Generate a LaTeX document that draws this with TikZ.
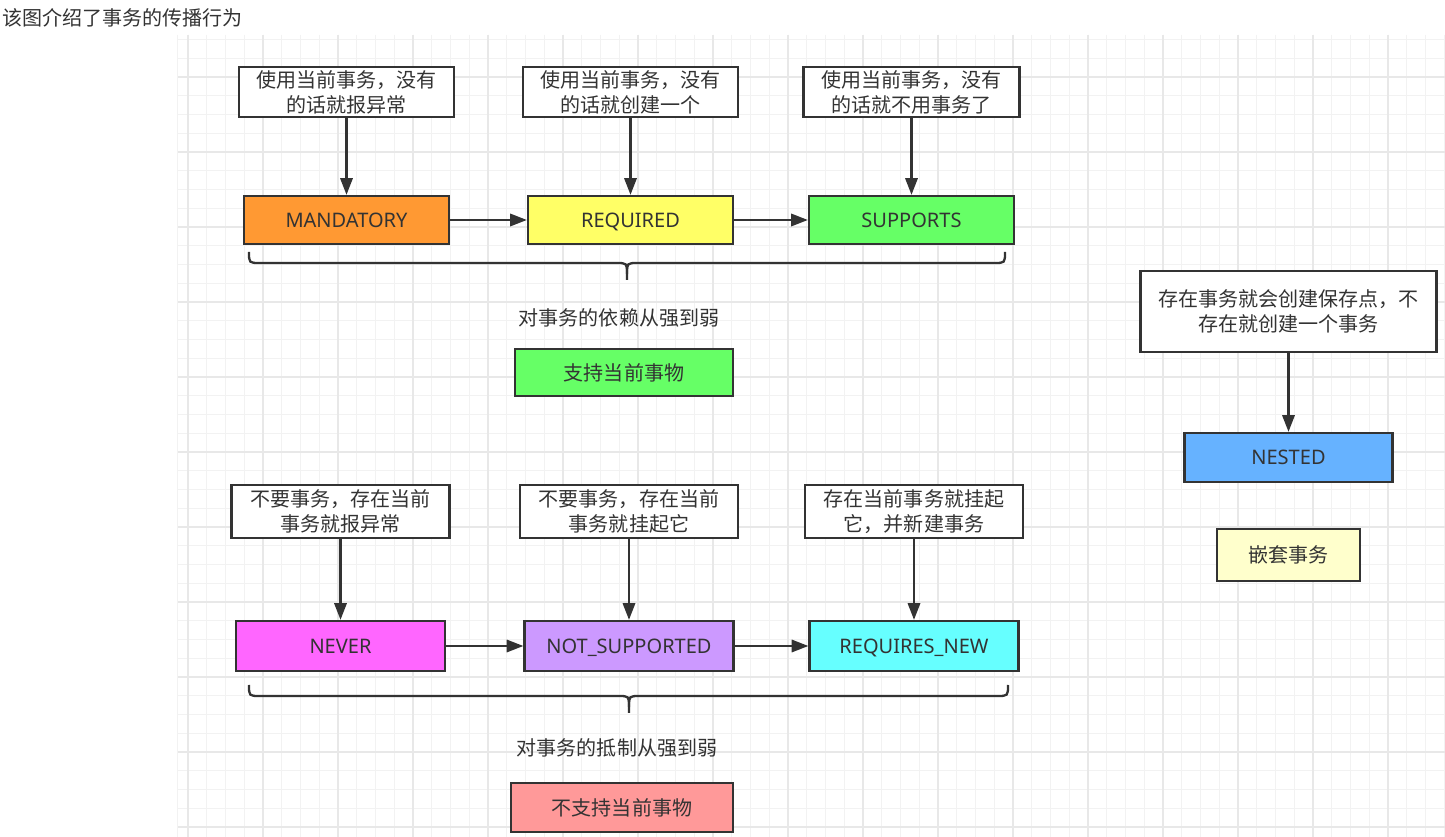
\documentclass[tikz,border=0pt]{standalone}
\usepackage{fontspec}
\setmainfont{Noto Sans}
\newfontfamily\cjk{Noto Sans CJK SC}
\usetikzlibrary{arrows.meta}
\definecolor{txt}{HTML}{333333}
\definecolor{bord}{HTML}{333333}
\definecolor{gminor}{HTML}{F2F2F2}
\definecolor{gmajor}{HTML}{E8E8E8}
\definecolor{cOrange}{HTML}{FF9933}
\definecolor{cYellow}{HTML}{FFFF66}
\definecolor{cGreen}{HTML}{66FF66}
\definecolor{cBlue}{HTML}{66B2FF}
\definecolor{cPale}{HTML}{FFFFCC}
\definecolor{cMagenta}{HTML}{FF66FF}
\definecolor{cPurple}{HTML}{CC99FF}
\definecolor{cCyan}{HTML}{66FFFF}
\definecolor{cPink}{HTML}{FF9999}
\tikzset{
  box/.style={draw=bord, line width=1.3pt, inner sep=0pt, text=txt, align=center,
    font=\fontsize{11.4}{14.2}\selectfont, text height=8.1pt, text depth=0pt},
  cbox/.style={draw=bord, line width=1.3pt, inner sep=0pt, text=txt, align=center,
    font=\cjk\fontsize{11.4}{14.2}\selectfont},
  note/.style={cbox, fill=white},
  lbl/.style={inner sep=0pt, text=txt, font=\cjk\fontsize{11.4}{14.2}\selectfont},
  arr/.style={draw=bord, line width=1.3pt, -{Triangle[length=9.5pt,width=7pt]}},
  bracepath/.style={draw=bord, line width=1.3pt},
}
\begin{document}
\begin{tikzpicture}[x=0.02cm,y=-0.02cm]
\useasboundingbox (0,0) rectangle (1445,837);
\fill[white] (0,0) rectangle (1445,837);
% grid
\begin{scope}
\clip (177,35) rectangle (1445,837);
\foreach \i in {0,...,67} \draw[gminor, line width=0.6pt] (188+18.75*\i,35) -- (188+18.75*\i,837);
\foreach \i in {2,...,44} \draw[gminor, line width=0.6pt] (177,2+18.75*\i) -- (1445,2+18.75*\i);
\foreach \i in {0,...,16} \draw[gmajor, line width=0.6pt] (188+75*\i,35) -- (188+75*\i,837);
\foreach \i in {1,...,11} \draw[gmajor, line width=0.6pt] (177,2+75*\i) -- (1445,2+75*\i);
\draw[gminor, line width=0.6pt] (177.3,35) -- (177.3,837);
\end{scope}
% title
\node[lbl, anchor=west] (title) at (2,18) {该图介绍了事务的传播行为};
% top row
\node[note, minimum width=4.30cm, minimum height=1.00cm] (a1) at (346.5,92) {使用当前事务，没有\\的话就报异常};
\node[note, minimum width=4.30cm, minimum height=1.00cm] (a2) at (630.5,92) {使用当前事务，没有\\的话就创建一个};
\node[note, minimum width=4.32cm, minimum height=1.00cm] (a3) at (911.5,92) {使用当前事务，没有\\的话就不用事务了};
\node[box, fill=cOrange, minimum width=4.10cm, minimum height=0.96cm] (mand) at (346.5,220) {MANDATORY};
\node[box, fill=cYellow, minimum width=4.10cm, minimum height=0.96cm] (req) at (630.5,220) {REQUIRED};
\node[box, fill=cGreen, minimum width=4.10cm, minimum height=0.96cm] (sup) at (911.5,220) {SUPPORTS};
\draw[arr] (a1) -- (mand);
\draw[arr] (a2) -- (req);
\draw[arr] (a3) -- (sup);
\draw[arr] (mand) -- (req);
\draw[arr] (req) -- (sup);
\draw[bracepath] (249,252) .. controls (249,263) .. (260,263) -- (616,263) .. controls (627,263) .. (627,274) -- (627,280);
\draw[bracepath] (1005,252) .. controls (1005,263) .. (994,263) -- (638,263) .. controls (627,263) .. (627,274);
\node[lbl] (dep) at (619,318) {对事务的依赖从强到弱};
\node[cbox, fill=cGreen, minimum width=4.36cm, minimum height=0.94cm] (support) at (624,372.5) {支持当前事物};
% nested
\node[note, minimum width=5.92cm, minimum height=1.62cm] (an) at (1288.5,311.5) {存在事务就会创建保存点，不\\存在就创建一个事务};
\node[box, fill=cBlue, minimum width=4.16cm, minimum height=0.98cm] (nested) at (1288.5,457.5) {NESTED};
\node[cbox, fill=cPale, minimum width=2.86cm, minimum height=1.04cm] (nest) at (1288.5,555) {嵌套事务};
\draw[arr] (an) -- (nested);
% bottom row
\node[note, minimum width=4.36cm, minimum height=1.06cm] (b1) at (340.5,511.5) {不要事务，存在当前\\事务就报异常};
\node[note, minimum width=4.36cm, minimum height=1.06cm] (b2) at (629,511.5) {不要事务，存在当前\\事务就挂起它};
\node[note, minimum width=4.36cm, minimum height=1.06cm] (b3) at (914,511.5) {存在当前事务就挂起\\它，并新建事务};
\node[box, fill=cMagenta, minimum width=4.18cm, minimum height=1.00cm] (never) at (340.5,646) {NEVER};
\node[box, fill=cPurple, minimum width=4.18cm, minimum height=1.00cm] (ns) at (629,646) {NOT\_SUPPORTED};
\node[box, fill=cCyan, minimum width=4.18cm, minimum height=1.00cm] (rn) at (914,646) {REQUIRES\_NEW};
\draw[arr] (b1) -- (never);
\draw[arr] (b2) -- (ns);
\draw[arr] (b3) -- (rn);
\draw[arr] (never) -- (ns);
\draw[arr] (ns) -- (rn);
\draw[bracepath] (249,685) .. controls (249,696) .. (260,696) -- (618,696) .. controls (629,696) .. (629,707) -- (629,713);
\draw[bracepath] (1008,685) .. controls (1008,696) .. (997,696) -- (640,696) .. controls (629,696) .. (629,707);
\node[lbl] (res) at (617,748) {对事务的抵制从强到弱};
\node[cbox, fill=cPink, minimum width=4.44cm, minimum height=0.98cm] (nosupport) at (622,807.5) {不支持当前事物};
\end{tikzpicture}
\end{document}
